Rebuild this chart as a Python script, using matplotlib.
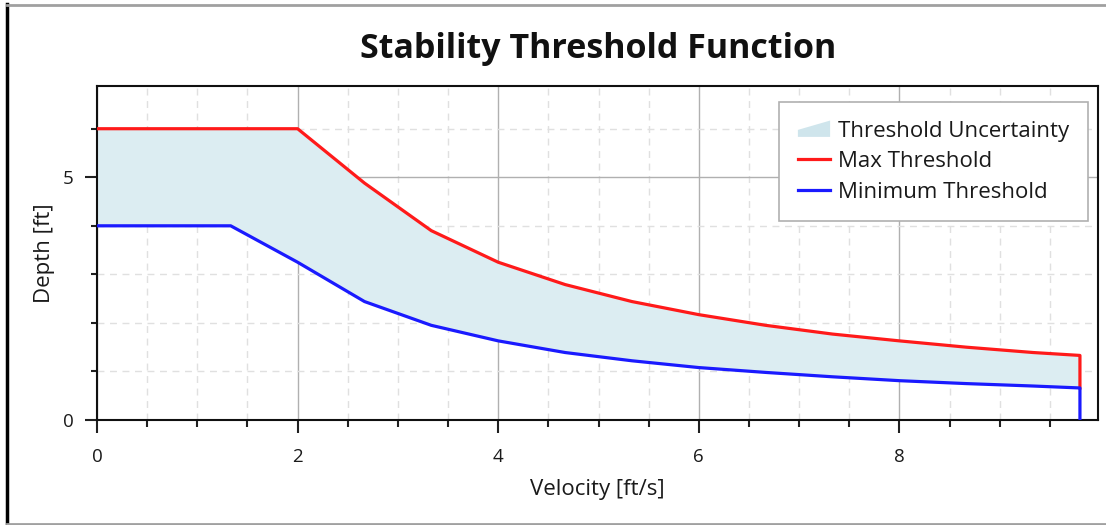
import matplotlib
matplotlib.use("Agg")
import matplotlib.pyplot as plt
from matplotlib.patches import Patch, Polygon
from matplotlib.lines import Line2D
from matplotlib.legend_handler import HandlerPatch
from matplotlib.ticker import MultipleLocator

plt.rcParams['font.family'] = ['Open Sans', 'DejaVu Sans']

# Data
velocity = [0, 0.667, 1.333, 2, 2.667, 3.333, 4, 4.667, 5.333, 6, 6.667, 7.333, 8, 8.667, 9.333, 9.8]
max_threshold = [6, 6, 6, 6, 4.88, 3.9, 3.25, 2.79, 2.44, 2.17, 1.95, 1.77, 1.63, 1.5, 1.39, 1.33]
min_threshold = [4, 4, 4, 3.25, 2.44, 1.95, 1.63, 1.39, 1.22, 1.08, 0.98, 0.89, 0.81, 0.75, 0.70, 0.66]

title = "Stability Threshold Function"
xlabel = "Velocity [ft/s]"
ylabel = "Depth [ft]"
legend_labels = ["Threshold Uncertainty", "Max Threshold", "Minimum Threshold"]

W, H = 1106, 525
fig = plt.figure(figsize=(W / 100, H / 100), dpi=100)
ax = fig.add_axes([97 / W, 105 / H, (1098 - 97) / W, (420 - 86) / H])

fill_color = '#dcedf2'
red = '#ff1a1a'
blue = '#1a1aff'

ax.fill_between(velocity, min_threshold, max_threshold, color=fill_color, lw=0, zorder=2)
# red line ends by dropping to the minimum threshold at the last velocity
ax.plot(velocity + [velocity[-1]], max_threshold + [min_threshold[-1]], color=red, lw=2.3, zorder=4,
        solid_joinstyle='round')
ax.plot(velocity + [velocity[-1]], min_threshold + [0], color=blue, lw=2.3, zorder=4,
        solid_joinstyle='round')

ax.set_xlim(0, 9.98)
ax.set_ylim(0, 6.88)
ax.xaxis.set_major_locator(MultipleLocator(2))
ax.xaxis.set_minor_locator(MultipleLocator(0.5))
ax.yaxis.set_major_locator(MultipleLocator(5))
ax.yaxis.set_minor_locator(MultipleLocator(1))

ax.grid(which='major', color='#b0b0b0', lw=1.0, zorder=1)
ax.grid(which='minor', color='#e0e0e0', lw=1.0, ls=(0, (5, 4)), zorder=1)
ax.set_axisbelow(True)

ax.tick_params(which='major', length=9, width=1.5, color='#202020', labelsize=13.5, labelcolor='#1a1a1a')
ax.tick_params(which='minor', length=5, width=1.5, color='#202020')
ax.tick_params(axis='x', which='major', pad=11)
ax.tick_params(axis='y', which='major', pad=8)
ax.tick_params(axis='y', which='minor', length=4.5)
for s in ax.spines.values():
    s.set_linewidth(1.5)
    s.set_color('#101010')

ax.set_xlabel(xlabel, fontsize=16, color='#1a1a1a')
ax.set_ylabel(ylabel, fontsize=16, color='#1a1a1a')
ax.xaxis.set_label_coords(0.5, (420 - 490) / 334)
ax.xaxis.label.set_va('center')
ax.yaxis.set_label_coords((45 - 97) / 1001, 0.5)
ax.yaxis.label.set_va('center')
ax.yaxis.label.set_ha('center')
fig.text(598 / W, 1 - 49 / H, title, fontsize=24.5, fontweight='bold', ha='center', va='center',
         color='#111111')


class WedgeHandler(HandlerPatch):
    def create_artists(self, legend, orig_handle, xdescent, ydescent, width, height, fontsize, trans):
        x0, y0 = -xdescent, -ydescent
        pts = [(x0, y0), (x0 + width, y0), (x0 + width, y0 + height * 1.05), (x0, y0 + height * 0.45)]
        p = Polygon(pts, closed=True, facecolor=orig_handle.get_facecolor(), edgecolor='none',
                    transform=trans)
        return [p]


fill_handle = Patch(facecolor='#cfe5ec', edgecolor='none')
handles = [fill_handle,
           Line2D([], [], color=red, lw=2.3),
           Line2D([], [], color=blue, lw=2.3)]
leg = ax.legend(handles, legend_labels, loc='upper left', bbox_to_anchor=(779 / W, 1 - 102 / H),
                bbox_transform=fig.transFigure, fontsize=16, fancybox=False, framealpha=1,
                edgecolor='#b0b0b0', handlelength=1.45, handletextpad=0.35, labelspacing=0.42,
                borderpad=0.85, borderaxespad=0, handler_map={fill_handle: WedgeHandler()})
leg.get_frame().set_linewidth(1.2)
for t in leg.get_texts():
    t.set_color('#1a1a1a')

# image frame lines
fig.add_artist(Line2D([7 / W, 7 / W], [0, 1 - 4 / H], transform=fig.transFigure, color='black', lw=2.5))
fig.add_artist(Line2D([7 / W, 1], [1 - 4.5 / H, 1 - 4.5 / H], transform=fig.transFigure, color='#a0a0a0', lw=2))
fig.add_artist(Line2D([7 / W, 1], [1.5 / H, 1.5 / H], transform=fig.transFigure, color='#a0a0a0', lw=2))

fig.savefig("out.png", dpi=100)
